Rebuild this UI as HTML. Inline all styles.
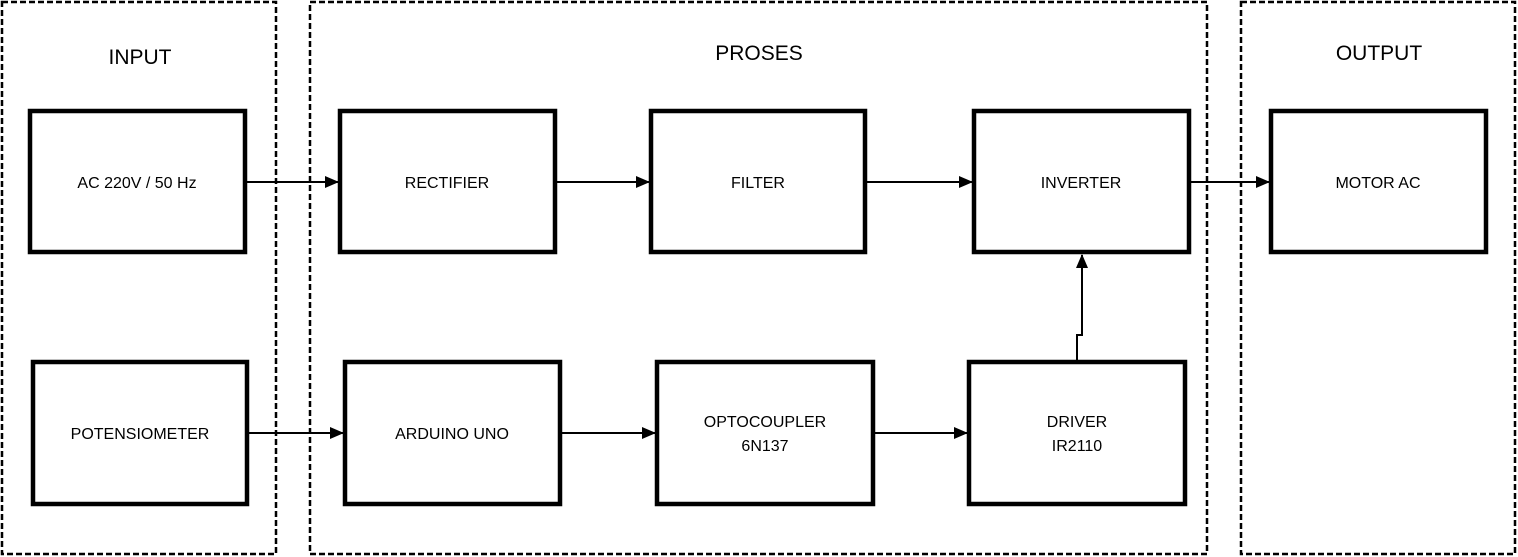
<!DOCTYPE html>
<html><head><style>
html,body{margin:0;padding:0;background:#fff;}
svg{display:block;}
text{font-family:"Liberation Sans",sans-serif;fill:#000;}
</style></head><body>
<svg width="1518" height="557" viewBox="0 0 1518 557">
<defs><marker id="a" markerWidth="14" markerHeight="12" refX="13" refY="6" orient="auto" markerUnits="userSpaceOnUse"><path d="M0,0 L14,6 L0,12 Z" fill="#000"/></marker></defs>
<g fill="none" stroke="#000" stroke-width="2.5" stroke-dasharray="6,3">
<rect x="2" y="2" width="274" height="552"/>
<rect x="310" y="2" width="897" height="552"/>
<rect x="1241" y="2" width="274" height="552"/>
</g>
<g fill="#fff" stroke="#000" stroke-width="4.5">
<rect x="30" y="111" width="215" height="141"/>
<rect x="340" y="111" width="215" height="141"/>
<rect x="651" y="111" width="214" height="141"/>
<rect x="974" y="111" width="215" height="141"/>
<rect x="1271" y="111" width="215" height="141"/>
<rect x="33" y="362" width="214" height="142"/>
<rect x="345" y="362" width="215" height="142"/>
<rect x="657" y="362" width="216" height="142"/>
<rect x="969" y="362" width="216" height="142"/>
</g>
<g stroke="#000" stroke-width="2" fill="none" marker-end="url(#a)">
<line x1="247" y1="182" x2="338" y2="182"/>
<line x1="557" y1="182" x2="649" y2="182"/>
<line x1="867" y1="182" x2="972" y2="182"/>
<line x1="1191" y1="182" x2="1269" y2="182"/>
<line x1="249" y1="433" x2="343" y2="433"/>
<line x1="562" y1="433" x2="655" y2="433"/>
<line x1="875" y1="433" x2="967" y2="433"/>
<polyline points="1077,360 1077,335 1082,335 1082,255"/>
</g>
<g font-size="21" text-anchor="middle">
<text x="140" y="64">INPUT</text>
<text x="759" y="60">PROSES</text>
<text x="1379" y="60">OUTPUT</text>
</g>
<g font-size="16" text-anchor="middle">
<text x="137" y="188">AC 220V / 50 Hz</text>
<text x="447" y="188">RECTIFIER</text>
<text x="758" y="188">FILTER</text>
<text x="1081" y="188">INVERTER</text>
<text x="1378" y="188">MOTOR AC</text>
<text x="140" y="439">POTENSIOMETER</text>
<text x="452" y="439">ARDUINO UNO</text>
<text x="765" y="427">OPTOCOUPLER</text>
<text x="765" y="451">6N137</text>
<text x="1077" y="427">DRIVER</text>
<text x="1077" y="451">IR2110</text>
</g>
</svg>
</body></html>
